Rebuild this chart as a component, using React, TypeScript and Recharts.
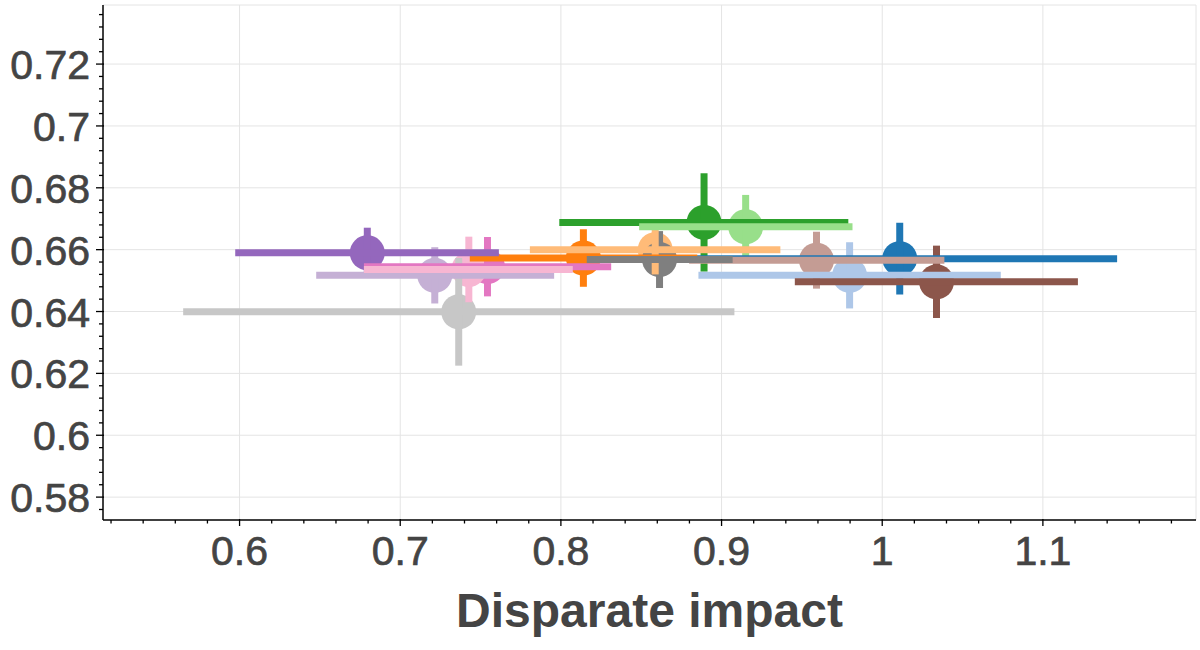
import { ScatterChart, Scatter, XAxis, YAxis, CartesianGrid, ErrorBar } from "recharts";

// one entry per model, tab20 order (the red pair is not used)
const names = [
  "blue", "light blue", "orange", "light orange", "green", "light green", "purple",
  "light purple", "brown", "light brown", "pink", "light pink", "gray", "light gray",
];
const colors = [
  "#1f77b4", "#aec7e8", "#ff7f0e", "#ffbb78", "#2ca02c", "#98df8a", "#9467bd",
  "#c5b0d5", "#8c564b", "#c49c94", "#e377c2", "#f7b6d2", "#7f7f7f", "#c7c7c7",
];
const impact = [1.0109, 0.9797, 0.814, 0.8587, 0.8891, 0.915, 0.6795, 0.7215, 1.0338, 0.9591, 0.7543, 0.7427, 0.8614, 0.7364];
const impactLow = [0.8794, 0.8856, 0.7433, 0.7807, 0.799, 0.8487, 0.5973, 0.6477, 0.9456, 0.8798, 0.6774, 0.6774, 0.8161, 0.5649];
const impactHigh = [1.1462, 1.0738, 0.8849, 0.9366, 0.9789, 0.9815, 0.7614, 0.7958, 1.1218, 1.0387, 0.8313, 0.8074, 0.9069, 0.908];
const score = [0.6571, 0.6517, 0.6573, 0.66, 0.6688, 0.6674, 0.659, 0.6517, 0.6496, 0.6566, 0.6545, 0.6536, 0.6568, 0.6399];
const scoreErr = [0.0116, 0.0107, 0.0093, 0.008, 0.0159, 0.0103, 0.0081, 0.0091, 0.0117, 0.0092, 0.0096, 0.0106, 0.0092, 0.0174];

// markers go down first (order above), then every vertical bar, then every horizontal bar, in this order
const barOrder = [0, 1, 8, 9, 2, 4, 5, 12, 3, 13, 10, 7, 11, 6];

const xMajor = [0.6, 0.7, 0.8, 0.9, 1, 1.1];
const yMajor = [0.58, 0.6, 0.62, 0.64, 0.66, 0.68, 0.7, 0.72];
const xMinor = [0.52, 0.54, 0.56, 0.58, 0.6, 0.62, 0.64, 0.66, 0.68, 0.7, 0.72, 0.74, 0.76, 0.78, 0.8, 0.82, 0.84, 0.86, 0.88, 0.9, 0.92, 0.94, 0.96, 0.98, 1, 1.02, 1.04, 1.06, 1.08, 1.1, 1.12, 1.14, 1.16, 1.18];
const yMinor = [0.576, 0.58, 0.584, 0.588, 0.592, 0.596, 0.6, 0.604, 0.608, 0.612, 0.616, 0.62, 0.624, 0.628, 0.632, 0.636, 0.64, 0.644, 0.648, 0.652, 0.656, 0.66, 0.664, 0.668, 0.672, 0.676, 0.68, 0.684, 0.688, 0.692, 0.696, 0.7, 0.704, 0.708, 0.712, 0.716, 0.72, 0.724, 0.728, 0.732, 0.736];

const X_DOMAIN = [0.515, 1.1953];
const Y_DOMAIN = [0.5726, 0.7391];

const FONT = "'Liberation Sans', Arial, Helvetica, sans-serif";
const TEXT = "#444";

const isMajor = (v: number, list: number[]) => list.some(m => Math.abs(m - v) < 1e-6);
const fmt = (v: number) => String(Number(v.toFixed(2)));

const XTick = (props: any) => {
  const { x, y, payload } = props;
  const major = isMajor(payload.value, xMajor);
  return (
    <g>
      <line x1={x} x2={x} y1={major ? y - 1 : y} y2={y + (major ? 6 : 3.5)} stroke="#000" strokeWidth={1.3} />
      {major && (
        <text x={x} y={y + 45} textAnchor="middle" fontSize={41} fontFamily={FONT} fill={TEXT} stroke={TEXT} strokeWidth={0.7}>
          {fmt(payload.value)}
        </text>
      )}
    </g>
  );
};

const YTick = (props: any) => {
  const { x, y, payload } = props;
  const major = isMajor(payload.value, yMajor);
  return (
    <g>
      <line x1={x - (major ? 7 : 4)} x2={major ? x + 1 : x} y1={y} y2={y} stroke="#000" strokeWidth={1.3} />
      {major && (
        <text x={x - 13} y={y + 15} textAnchor="end" fontSize={41} fontFamily={FONT} fill={TEXT} stroke={TEXT} strokeWidth={0.7}>
          {fmt(payload.value)}
        </text>
      )}
    </g>
  );
};

const Dot = (props: any) => <circle cx={props.cx} cy={props.cy} r={17.5} fill={props.fill} />;
const NoDot = () => <g />;

export default function App() {
  const rows = names.map((name, i) => ({
    name,
    color: colors[i],
    data: [{
      x: impact[i],
      y: score[i],
      ex: [impact[i] - impactLow[i], impactHigh[i] - impact[i]],
      ey: scoreErr[i],
    }],
  }));
  const ordered = barOrder.map(i => rows[i]);

  return (
    <div style={{ position: "absolute", left: 0, top: 0, background: "#fff" }}>
      <ScatterChart width={1200} height={650} margin={{ top: 5, right: 4, bottom: 0, left: 0 }}>
        <CartesianGrid
          stroke="#e4e4e4"
          strokeWidth={1}
          horizontalValues={[...yMajor, Y_DOMAIN[1]]}
          verticalValues={[...xMajor, X_DOMAIN[1]]}
        />
        <XAxis
          type="number"
          dataKey="x"
          domain={X_DOMAIN}
          allowDataOverflow
          ticks={xMinor}
          interval={0}
          tickLine={false}
          tickSize={0}
          tickMargin={0}
          tick={XTick}
          height={130}
          axisLine={{ stroke: "#000", strokeWidth: 1.5 }}
          label={{
            content: (p: any) => (
              <text
                x={p.viewBox.x + p.viewBox.width / 2}
                y={p.viewBox.y + 107}
                textAnchor="middle"
                fontSize={48}
                fontWeight="bold"
                fontFamily={FONT}
                fill={TEXT}
              >
                Disparate impact
              </text>
            ),
          }}
        />
        <YAxis
          type="number"
          dataKey="y"
          domain={Y_DOMAIN}
          allowDataOverflow
          ticks={yMinor}
          interval={0}
          tickLine={false}
          tickSize={0}
          tickMargin={0}
          tick={YTick}
          width={103}
          axisLine={{ stroke: "#000", strokeWidth: 1.5 }}
        />
        {rows.map(r => (
          <Scatter key={"m-" + r.name} name={r.name} data={r.data} fill={r.color} shape={Dot} isAnimationActive={false} />
        ))}
        {ordered.map(r => (
          <Scatter key={"v-" + r.name} name={r.name + " y err"} data={r.data} fill={r.color} shape={NoDot} isAnimationActive={false}>
            <ErrorBar dataKey="ey" direction="y" width={0} stroke={r.color} strokeWidth={7} zIndex={700} isAnimationActive={false} />
          </Scatter>
        ))}
        {ordered.map(r => (
          <Scatter key={"h-" + r.name} name={r.name + " x err"} data={r.data} fill={r.color} shape={NoDot} isAnimationActive={false}>
            <ErrorBar dataKey="ex" direction="x" width={0} stroke={r.color} strokeWidth={7} zIndex={710} isAnimationActive={false} />
          </Scatter>
        ))}
      </ScatterChart>
    </div>
  );
}
